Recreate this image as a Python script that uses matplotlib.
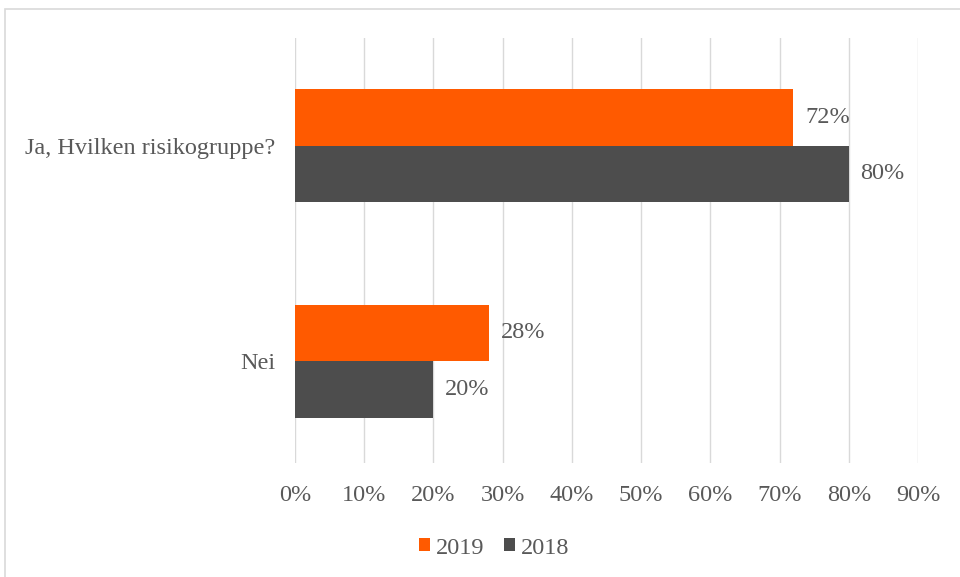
import matplotlib
matplotlib.use("Agg")
import matplotlib.pyplot as plt
from matplotlib.patches import Rectangle
from matplotlib.ticker import MultipleLocator, FuncFormatter
import numpy as np

plt.rcParams['font.family'] = ['Liberation Serif', 'DejaVu Serif']

categories = ["Nei", "Ja, Hvilken risikogruppe?"]
y2019 = [0.28, 0.72]
y2018 = [0.20, 0.80]
series_names = ["2019", "2018"]
colors = ["#FF5A00", "#4D4D4D"]
text_color = "#595959"
fs = 17.5

fig = plt.figure(figsize=(9.6, 5.77), dpi=100)
ax = fig.add_axes([295 / 960, 1 - 463 / 577, (918 - 295) / 960, (463 - 38) / 577])

# outer chart border
fig.patches.append(Rectangle((5 / 960, -0.1), 1.1, 1 - 9 / 577 + 0.1, transform=fig.transFigure,
                             fill=False, edgecolor="#D9D9D9", linewidth=1.2))

pos = np.arange(len(categories))
h = 0.262
ax.barh(pos + h / 2, y2019, height=h, color=colors[0], label=series_names[0])
ax.barh(pos - h / 2, y2018, height=h, color=colors[1], label=series_names[1])

for i in range(len(categories)):
    ax.text(y2019[i] + 0.017, pos[i] + h / 2, f"{y2019[i]*100:.0f}%", va="center", ha="left",
            fontsize=fs, color=text_color)
    ax.text(y2018[i] + 0.017, pos[i] - h / 2, f"{y2018[i]*100:.0f}%", va="center", ha="left",
            fontsize=fs, color=text_color)

ax.set_xlim(0, 0.9)
ax.set_ylim(-0.473, 1.499)
ax.xaxis.set_major_locator(MultipleLocator(0.1))
ax.xaxis.set_major_formatter(FuncFormatter(lambda v, p: f"{v*100:.0f}%"))
ax.set_yticks(pos)
ax.set_yticklabels(categories)
ax.tick_params(axis="both", length=0, labelsize=fs, labelcolor=text_color)
ax.tick_params(axis="x", pad=16)
ax.tick_params(axis="y", pad=14)
ax.grid(axis="x", color="#D9D9D9", linewidth=1)
ax.set_axisbelow(True)
for s in ax.spines.values():
    s.set_visible(False)

fig.legend(loc="center", bbox_to_anchor=(494 / 960, 1 - 548 / 577), ncol=2, frameon=False,
           fontsize=fs, labelcolor=text_color, handlelength=0.45, handleheight=0.45,
           handletextpad=0.25, columnspacing=0.8)

fig.savefig("out.png", dpi=100)
